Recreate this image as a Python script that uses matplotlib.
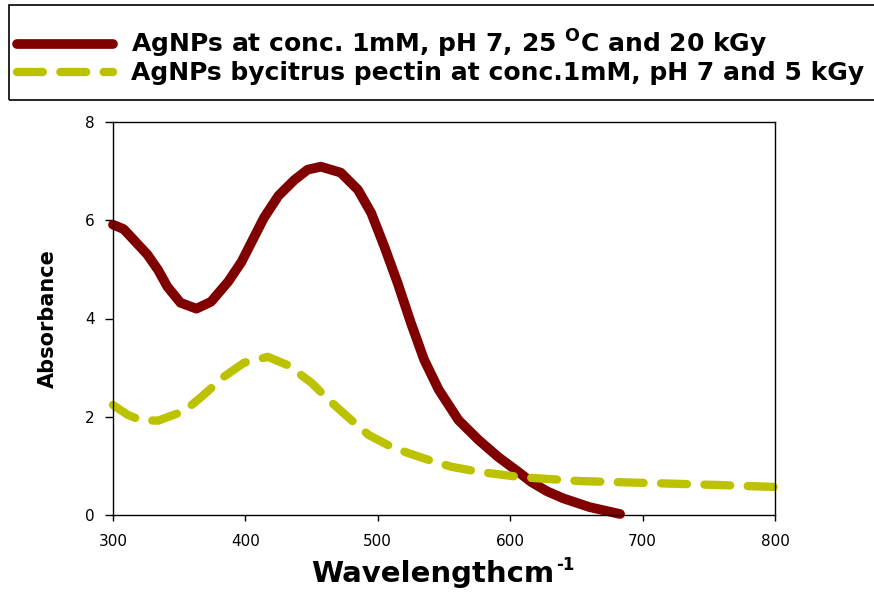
import numpy as np
import matplotlib.pyplot as plt
from matplotlib.patches import Rectangle

plt.rcParams['font.family'] = ['DejaVu Sans']
plt.rcParams['mathtext.fontset'] = 'dejavusans'

# dark red curve (20 kGy)
wl_red = [300, 308, 315, 326, 334, 341, 351, 363, 374, 387, 397, 404, 414, 425, 437,
          447, 457, 472, 485, 495, 505, 515, 525, 535, 546, 561, 576, 591, 606, 616,
          628, 640, 660, 683]
abs_red = [5.91, 5.82, 5.62, 5.3, 4.99, 4.65, 4.32, 4.2, 4.34, 4.75, 5.15, 5.52, 6.05, 6.5, 6.82,
           7.03, 7.09, 6.97, 6.62, 6.15, 5.46, 4.72, 3.91, 3.16, 2.55, 1.93, 1.53, 1.18, 0.88, 0.67,
           0.48, 0.34, 0.16, 0.02]

# yellow dashed curve (citrus pectin, 5 kGy)
wl_yel = [300, 311, 321, 334, 354, 367, 384, 399, 417, 432, 450, 463, 478, 493,
          510, 523, 543, 556, 576, 588, 608, 653, 706, 758, 800]
abs_yel = [2.24, 2.04, 1.93, 1.92, 2.12, 2.41, 2.82, 3.1, 3.22, 3.05, 2.69, 2.34, 1.98, 1.63,
           1.39, 1.26, 1.08, 0.98, 0.88, 0.84, 0.77, 0.69, 0.65, 0.61, 0.57]

labels = [r'AgNPs at conc. 1mM, pH 7, 25 $^{\mathbf{O}}$C and 20 kGy',
          'AgNPs bycitrus pectin at conc.1mM, pH 7 and 5 kGy']
xticks = [300, 400, 500, 600, 700, 800]
yticks = [0, 2, 4, 6, 8]

W, H = 874, 598
fig = plt.figure(figsize=(W / 100, H / 100), dpi=100)
ax = fig.add_axes([113/W, 1-515/H, 662/W, 393/H])

ax.plot(wl_red, abs_red, color='#800000', lw=7, solid_capstyle='round',
        solid_joinstyle='round', clip_on=False, label=labels[0])
ax.plot(wl_yel, abs_yel, color='#bcc200', lw=6, dashes=(3.1, 2.1),
        dash_capstyle='round', clip_on=False, label=labels[1])

ax.set_xlim(300, 800)
ax.set_ylim(0, 8)
ax.set_xticks(xticks)
ax.set_yticks(yticks)
ax.tick_params(labelsize=11, direction='out', length=6, width=1, colors='black')
ax.tick_params(axis='x', length=4.5, pad=9)
ax.tick_params(axis='y', pad=7)
for s in ax.spines.values():
    s.set_linewidth(1)

ax.set_ylabel('Absorbance', fontsize=15, fontweight='bold')
ax.yaxis.set_label_coords((58 - 113) / 662, 0.5)

ax.set_xlabel('Wavelengthcm', fontsize=21, fontweight='bold', va='baseline')
ax.xaxis.set_label_coords((433 - 113) / 662, (515 - 582) / 393)

fig.canvas.draw()
bb = ax.xaxis.label.get_window_extent()
fig.text(bb.x1 / W + 2 / W, 1 - 570 / H, '-1', fontsize=12, fontweight='bold',
         ha='left', va='baseline')

# legend frame and entries
fig.patches.append(Rectangle((9/W, 1-100/H), 1.0, 95/H, transform=fig.transFigure,
                             fill=False, edgecolor='black', lw=1.2, figure=fig))
handles, labs = ax.get_legend_handles_labels()
fig.legend(handles, labs, loc='upper left', bbox_to_anchor=(17/W, 1-28/H),
           borderaxespad=0, borderpad=0, frameon=False,
           prop={'size': 18, 'weight': 'bold'}, handlelength=3.85,
           handletextpad=0.72, labelspacing=0.05)

fig.savefig('out.png', dpi=100)
